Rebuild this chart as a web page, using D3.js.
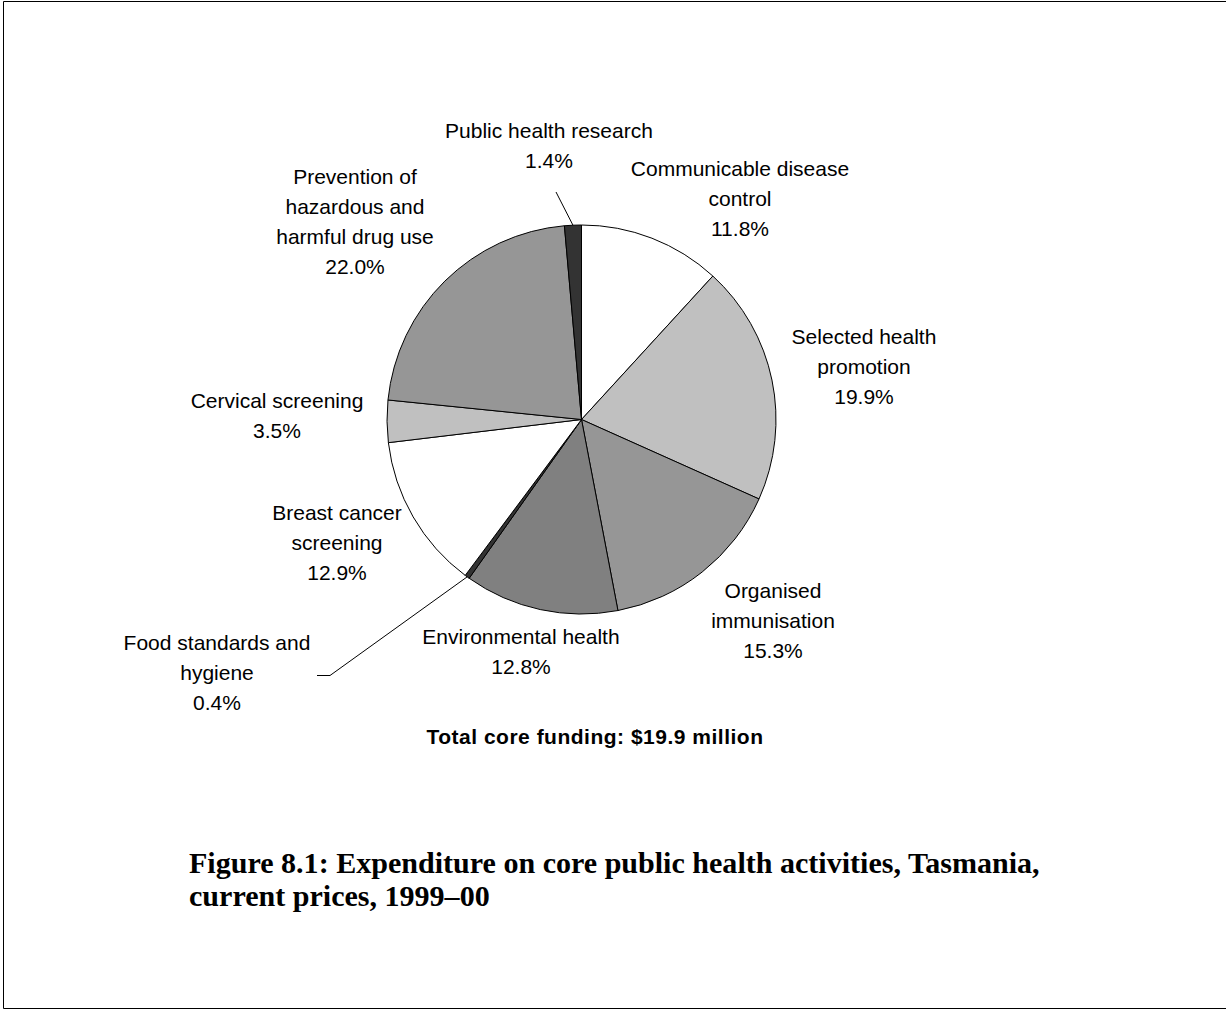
<!DOCTYPE html>
<html>
<head>
<meta charset="utf-8">
<script src="https://cdn.jsdelivr.net/npm/d3@7"></script>
<style>
  body { margin: 0; background: #fff; }
  svg text { font-family: "Liberation Sans", Arial, sans-serif; }
</style>
</head>
<body>
<svg id="main-chart"></svg>
<script>
// data (clockwise from 12 o'clock)
const categories = [
  "Communicable disease control",
  "Selected health promotion",
  "Organised immunisation",
  "Environmental health",
  "Food standards and hygiene",
  "Breast cancer screening",
  "Cervical screening",
  "Prevention of hazardous and harmful drug use",
  "Public health research"
];
const shares = [11.8, 19.9, 15.3, 12.8, 0.4, 12.9, 3.5, 22.0, 1.4];
const totalText = "Total core funding: $19.9 million";
const titleLines = [
  "Figure 8.1: Expenditure on core public health activities, Tasmania,",
  "current prices, 1999\u201300"
];

// label layout: wrapped lines, centre x, first line centre y
const labelLayout = {
  "Communicable disease control": {lines: ["Communicable disease", "control"], x: 740, y: 169},
  "Selected health promotion": {lines: ["Selected health", "promotion"], x: 864, y: 337},
  "Organised immunisation": {lines: ["Organised", "immunisation"], x: 773, y: 591},
  "Environmental health": {lines: ["Environmental health"], x: 521, y: 637},
  "Food standards and hygiene": {lines: ["Food standards and", "hygiene"], x: 217, y: 643},
  "Breast cancer screening": {lines: ["Breast cancer", "screening"], x: 337, y: 513},
  "Cervical screening": {lines: ["Cervical screening"], x: 277, y: 401},
  "Prevention of hazardous and harmful drug use": {lines: ["Prevention of", "hazardous and", "harmful drug use"], x: 355, y: 177},
  "Public health research": {lines: ["Public health research"], x: 549, y: 131}
};

const width = 1226, height = 1012;
const cx = 581.5, cy = 419.5, radius = 194.5;
const lineGap = 30;

const svg = d3.select("#main-chart")
  .attr("width", width)
  .attr("height", height);

// frame
svg.append("path")
  .attr("d", `M${width + 5},1.5 H3.5 V1008.5 H${width + 5}`)
  .attr("fill", "none")
  .attr("stroke", "#000")
  .attr("stroke-width", 1);

const fill = d3.scaleOrdinal()
  .domain(categories)
  .range(["#ffffff", "#c0c0c0", "#969696", "#808080", "#333333",
          "#ffffff", "#c0c0c0", "#969696", "#333333"]);

const pie = d3.pie().sort(null).value(d => d.value);
const arcs = pie(categories.map((c, i) => ({name: c, value: shares[i]})));
const arc = d3.arc().innerRadius(0).outerRadius(radius);

const g = svg.append("g").attr("transform", `translate(${cx},${cy})`);

g.selectAll("path")
  .data(arcs)
  .join("path")
  .attr("d", arc)
  .attr("fill", d => fill(d.data.name))
  .attr("stroke", "#000")
  .attr("stroke-width", 1)
  .attr("stroke-linejoin", "round");

// leader lines for the two thin slices
function edgePoint(d) {
  const a = (d.startAngle + d.endAngle) / 2;
  return [cx + radius * Math.sin(a), cy - radius * Math.cos(a)];
}
const research = arcs[8], food = arcs[4];
const rp = edgePoint(research);
svg.append("path")
  .attr("d", d3.line()([[556, 192], rp]))
  .attr("fill", "none").attr("stroke", "#000").attr("stroke-width", 1);
const fp = edgePoint(food);
svg.append("path")
  .attr("d", d3.line()([fp, [330, 675.5], [317, 675.5]]))
  .attr("fill", "none").attr("stroke", "#000").attr("stroke-width", 1);

// labels
const labels = svg.append("g")
  .attr("font-size", 21)
  .attr("fill", "#000")
  .attr("text-anchor", "middle");

arcs.forEach(d => {
  const L = labelLayout[d.data.name];
  const lines = L.lines.concat([d3.format(".1f")(d.data.value) + "%"]);
  const t = labels.append("text")
    .attr("x", L.x)
    .attr("y", L.y);
  lines.forEach((s, i) => {
    t.append("tspan")
      .attr("x", L.x)
      .attr("y", L.y + i * lineGap)
      .attr("dy", "0.35em")
      .text(s);
  });
});

svg.append("text")
  .attr("x", 595)
  .attr("y", 737)
  .attr("dy", "0.35em")
  .attr("text-anchor", "middle")
  .attr("font-size", 21)
  .attr("font-weight", "bold")
  .attr("letter-spacing", 0.5)
  .text(totalText);

// figure caption, sized so the first line spans the same width as the original
const caption = svg.append("g")
  .selectAll("text")
  .data(titleLines)
  .join("text")
  .attr("x", 189)
  .attr("y", (d, i) => 873 + i * 33)
  .attr("font-weight", "bold")
  .attr("font-size", 26)
  .style("font-family", "'Liberation Serif', 'Times New Roman', serif")
  .text(d => d);

const w0 = caption.node().getComputedTextLength();
caption.attr("font-size", 26 * 851 / w0);
</script>
</body>
</html>
